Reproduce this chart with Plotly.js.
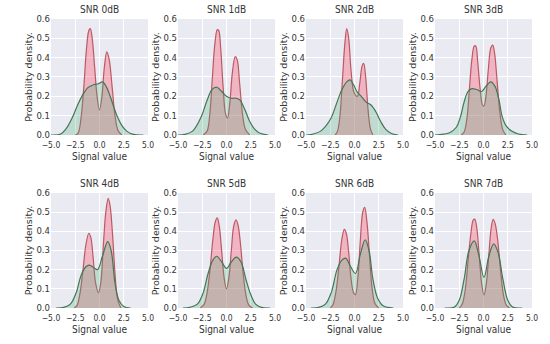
<!DOCTYPE html>
<html><head><meta charset="utf-8">
<script src="https://cdn.plot.ly/plotly-3.0.1.min.js"></script>
<style>html,body{margin:0;padding:0;background:#fff}#chart{width:550px;height:344px}</style>
</head><body><div id="chart"></div>
<script>
// Subplot titles
const titles = ["SNR 0dB","SNR 1dB","SNR 2dB","SNR 3dB","SNR 4dB","SNR 5dB","SNR 6dB","SNR 7dB"];
const xTicks = [-5, -2.5, 0, 2.5, 5];
const xTickText = ["\u22125.0","\u22122.5","0.0","2.5","5.0"];
const yTicks = [0, 0.1, 0.2, 0.3, 0.4, 0.5, 0.6];
const yTickText = ["0.0","0.1","0.2","0.3","0.4","0.5","0.6"];

// SNR 0dB
const red0x = [-2.5,-2.2,-1.9,-1.6,-1.35,-1.1,-0.95,-0.75,-0.5,-0.25,0,0.25,0.5,0.75,1.0,1.3,1.6,1.9,2.3];
const red0y = [0,0.01,0.09,0.26,0.44,0.54,0.55,0.5,0.35,0.2,0.13,0.2,0.35,0.43,0.39,0.25,0.1,0.025,0];
const green0x = [-5,-4,-3.4,-2.8,-2.3,-1.7,-1.2,-0.6,-0.1,0.3,0.7,1.1,1.5,1.8,2.3,2.8,3.5,4.5];
const green0y = [0,0.005,0.035,0.09,0.15,0.21,0.245,0.26,0.265,0.275,0.25,0.2,0.14,0.1,0.05,0.02,0.003,0];
// SNR 1dB
const red1x = [-2.4,-2.0,-1.7,-1.45,-1.2,-0.95,-0.8,-0.6,-0.35,-0.1,0.1,0.35,0.6,0.9,1.1,1.35,1.65,1.95,2.4];
const red1y = [0,0.02,0.12,0.3,0.47,0.545,0.54,0.45,0.25,0.11,0.087,0.17,0.32,0.405,0.39,0.27,0.11,0.03,0];
const green1x = [-5,-4.3,-3.5,-2.6,-2.0,-1.5,-1.0,-0.5,0,0.5,1.0,1.4,1.9,2.4,2.9,3.4,4.3];
const green1y = [0,0.003,0.02,0.095,0.18,0.235,0.247,0.225,0.2,0.19,0.19,0.18,0.13,0.07,0.03,0.01,0];
// SNR 2dB
const red2x = [-2.0,-1.75,-1.5,-1.25,-1.0,-0.8,-0.6,-0.35,-0.05,0.3,0.55,0.8,0.95,1.15,1.4,1.65,1.9];
const red2y = [0,0.02,0.1,0.28,0.47,0.55,0.5,0.33,0.22,0.2,0.27,0.36,0.37,0.3,0.13,0.03,0];
const green2x = [-5,-4.5,-3.5,-2.5,-1.8,-1.3,-0.8,-0.45,-0.1,0.3,0.7,1.2,1.7,2.2,2.7,3.2,3.8,4.5];
const green2y = [0,0.002,0.02,0.08,0.17,0.235,0.275,0.285,0.26,0.22,0.2,0.17,0.155,0.12,0.07,0.03,0.008,0];
// SNR 3dB
const red3x = [-2.3,-2.0,-1.7,-1.45,-1.2,-0.95,-0.8,-0.6,-0.35,-0.1,0.05,0.25,0.5,0.75,0.95,1.15,1.4,1.7,2.0,2.3];
const red3y = [0,0.015,0.09,0.24,0.39,0.46,0.46,0.38,0.24,0.155,0.15,0.2,0.34,0.45,0.465,0.42,0.28,0.11,0.025,0];
const green3x = [-5,-4.5,-3.5,-2.8,-2.4,-2.0,-1.6,-1.2,-0.7,-0.2,0.3,0.75,1.2,1.6,1.9,2.3,2.9,3.6,4.5];
const green3y = [0,0.002,0.012,0.04,0.09,0.17,0.225,0.24,0.235,0.225,0.255,0.275,0.25,0.18,0.1,0.05,0.02,0.005,0];
// SNR 4dB
const red4x = [-2.6,-2.3,-2.0,-1.7,-1.4,-1.1,-0.9,-0.65,-0.4,-0.1,0.15,0.4,0.65,0.9,1.1,1.35,1.6,1.85,2.2];
const red4y = [0,0.015,0.08,0.2,0.33,0.39,0.37,0.26,0.13,0.08,0.14,0.33,0.5,0.572,0.53,0.38,0.18,0.05,0];
const green4x = [-4.5,-3.7,-3.0,-2.4,-1.9,-1.4,-1.05,-0.6,-0.2,0.3,0.85,1.2,1.6,2.0,2.5,3.2];
const green4y = [0,0.003,0.02,0.08,0.17,0.215,0.224,0.21,0.2,0.27,0.346,0.3,0.13,0.04,0.008,0];
// SNR 5dB
const red5x = [-2.7,-2.3,-2.0,-1.7,-1.4,-1.15,-0.95,-0.75,-0.5,-0.25,0,0.25,0.5,0.75,0.98,1.2,1.45,1.7,2.0,2.3,2.7];
const red5y = [0,0.02,0.08,0.2,0.36,0.45,0.47,0.43,0.3,0.16,0.1,0.16,0.3,0.43,0.46,0.43,0.33,0.19,0.07,0.015,0];
const green5x = [-4.5,-3.8,-3.0,-2.4,-1.9,-1.4,-1.0,-0.5,0,0.5,1.0,1.5,2.0,2.5,3.0,3.6,4.5];
const green5y = [0,0.003,0.02,0.08,0.18,0.25,0.27,0.24,0.207,0.24,0.265,0.24,0.15,0.07,0.02,0.003,0];
// SNR 6dB
const red6x = [-2.5,-2.2,-1.9,-1.6,-1.3,-1.05,-0.85,-0.6,-0.35,-0.1,0.1,0.35,0.6,0.85,1.05,1.3,1.55,1.8,2.1,2.5];
const red6y = [0,0.02,0.09,0.22,0.36,0.41,0.39,0.29,0.15,0.08,0.07,0.16,0.35,0.5,0.525,0.44,0.27,0.11,0.025,0];
const green6x = [-4.5,-3.7,-3.0,-2.4,-1.8,-1.3,-0.9,-0.5,0.1,0.6,1.1,1.5,1.9,2.4,3.0,4.0];
const green6y = [0,0.003,0.02,0.08,0.2,0.25,0.26,0.225,0.18,0.28,0.355,0.3,0.15,0.05,0.01,0];
// SNR 7dB
const red7x = [-2.5,-2.2,-1.9,-1.6,-1.3,-1.05,-0.9,-0.7,-0.45,-0.2,0.05,0.3,0.55,0.8,1.0,1.2,1.45,1.75,2.05,2.35,2.7];
const red7y = [0,0.02,0.09,0.24,0.39,0.46,0.463,0.42,0.28,0.13,0.068,0.13,0.28,0.42,0.463,0.44,0.36,0.2,0.07,0.015,0];
const green7x = [-4,-3.0,-2.5,-2.0,-1.5,-0.95,-0.5,0.05,0.55,1.05,1.5,2.0,2.5,3.0,4];
const green7y = [0,0.005,0.04,0.15,0.3,0.35,0.28,0.16,0.27,0.334,0.29,0.15,0.04,0.005,0];

const redX = [red0x,red1x,red2x,red3x,red4x,red5x,red6x,red7x];
const redY = [red0y,red1y,red2y,red3y,red4y,red5y,red6y,red7y];
const greenX = [green0x,green1x,green2x,green3x,green4x,green5x,green6x,green7x];
const greenY = [green0y,green1y,green2y,green3y,green4y,green5y,green6y,green7y];

const xDom = [[0.0927,0.2691],[0.3236,0.5],[0.5564,0.7327],[0.7909,0.9673]];
const yDom = [[0.6076,0.9448],[0.1047,0.4390]];

const FONT = "DejaVu Sans, Liberation Sans, sans-serif";
const CFONT = "DejaVu Sans Condensed, Liberation Sans Narrow, DejaVu Sans, sans-serif";
const TXT = "#333333";

const traces = [];
const layout = {
  width: 550, height: 344,
  margin: {l:0, r:0, t:0, b:0},
  paper_bgcolor: "#ffffff",
  plot_bgcolor: "#EAEAF2",
  showlegend: false,
  annotations: []
};

for (let i = 0; i < 8; i++) {
  const n = i + 1;
  const xa = n === 1 ? "x" : "x" + n;
  const ya = n === 1 ? "y" : "y" + n;
  const row = Math.floor(i / 4), col = i % 4;
  traces.push({
    x: redX[i], y: redY[i], xaxis: xa, yaxis: ya, type: "scatter", mode: "lines",
    line: {color: "#bb5a63", width: 1.2, shape: "spline", smoothing: 1},
    fill: "tozeroy", fillcolor: "rgba(255,40,75,0.28)", hoverinfo: "skip"
  });
  traces.push({
    x: greenX[i], y: greenY[i], xaxis: xa, yaxis: ya, type: "scatter", mode: "lines",
    line: {color: "#457556", width: 1.2, shape: "spline", smoothing: 1},
    fill: "tozeroy", fillcolor: "rgba(60,170,110,0.25)", hoverinfo: "skip"
  });
  const xk = n === 1 ? "xaxis" : "xaxis" + n;
  const yk = n === 1 ? "yaxis" : "yaxis" + n;
  layout[xk] = {
    domain: xDom[col], anchor: ya, range: [-5, 5],
    tickmode: "array", tickvals: xTicks, ticktext: xTickText,
    showgrid: true, gridcolor: "#ffffff", gridwidth: 1, zeroline: false, showline: false,
    ticks: "", ticklabelstandoff: 4, tickfont: {family: CFONT, size: 8.5, color: TXT},
    title: {text: "Signal value", font: {family: CFONT, size: 10, color: TXT}, standoff: 3},
    automargin: false, fixedrange: true
  };
  layout[yk] = {
    domain: yDom[row], anchor: xa, range: [0, 0.6],
    tickmode: "array", tickvals: yTicks, ticktext: yTickText,
    showgrid: true, gridcolor: "#ffffff", gridwidth: 1, zeroline: false, showline: false,
    ticks: "", tickfont: {family: FONT, size: 8.5, color: TXT},
    title: {text: "Probability density.", font: {family: FONT, size: 9.5, color: TXT}, standoff: 2},
    automargin: false, fixedrange: true
  };
  layout.annotations.push({
    text: titles[i], xref: "paper", yref: "paper",
    x: (xDom[col][0] + xDom[col][1]) / 2, y: yDom[row][1],
    xanchor: "center", yanchor: "bottom", yshift: 2, showarrow: false,
    font: {family: CFONT, size: 10, color: TXT}
  });
}

Plotly.newPlot("chart", traces, layout, {staticPlot: true, displayModeBar: false});
</script>
</body></html>
